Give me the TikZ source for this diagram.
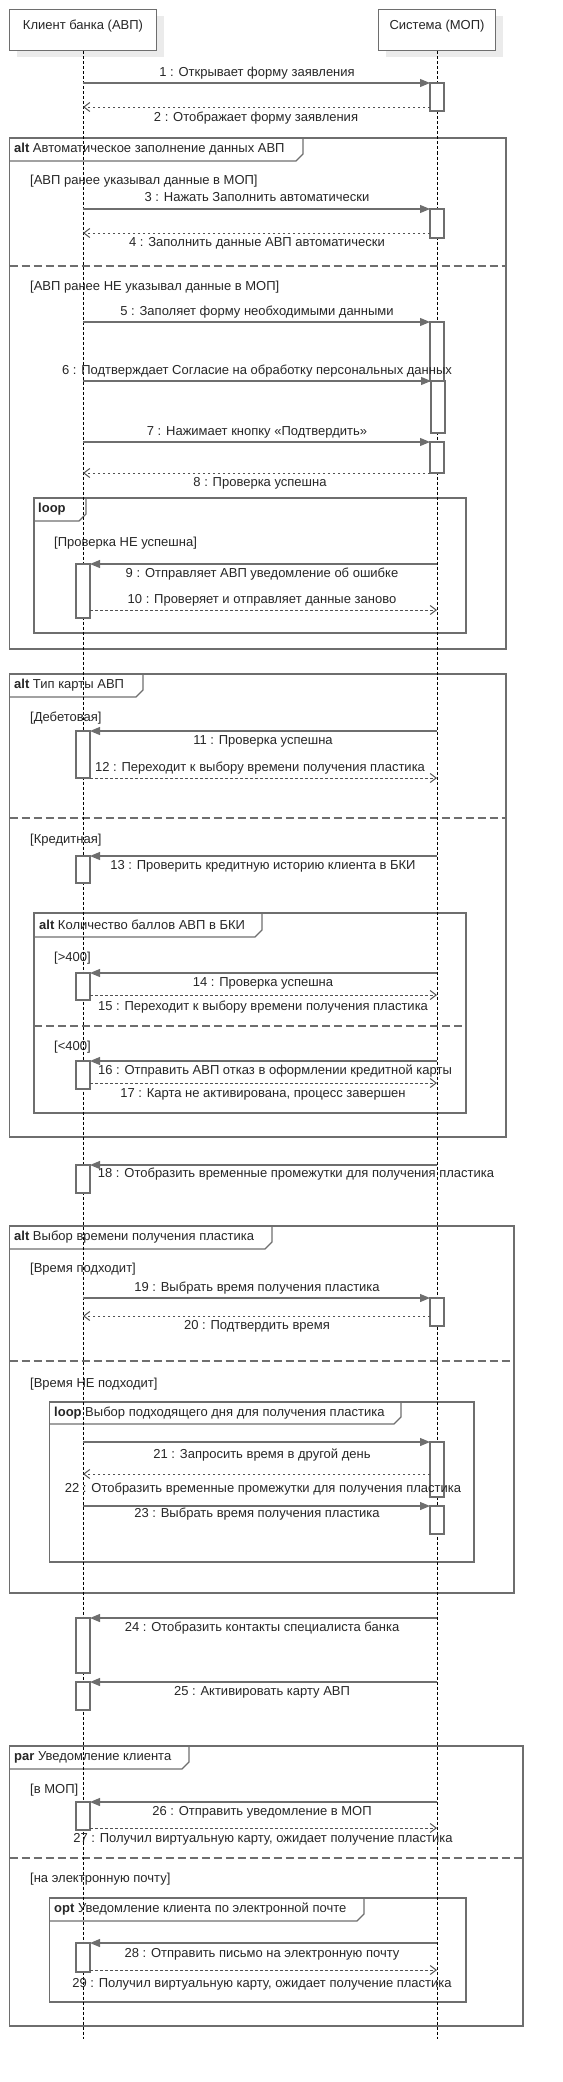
\documentclass[tikz,border=0pt]{standalone}
\usepackage{fontspec}
\setmainfont{Liberation Sans}
\usetikzlibrary{arrows.meta,shadows}
\definecolor{lineGray}{HTML}{6E6E6E}
\definecolor{textGray}{HTML}{262626}
\tikzset{
  hdr/.style={draw=lineGray, fill=white, line width=1pt, anchor=north, inner sep=4pt,
    text height=15.5pt, text depth=17.5pt, text=textGray, font=\fontsize{13}{15}\selectfont,
    drop shadow={shadow xshift=7pt, shadow yshift=-6pt, fill=black!8, opacity=1}},
  life/.style={black, line width=0.7pt, dash pattern=on 3pt off 2pt},
  act/.style={draw=lineGray, fill=white, line width=1.2pt, anchor=north, minimum width=14pt, inner sep=0pt, outer sep=0pt},
  sync/.style={draw=lineGray, line width=1.1pt, -{Triangle[length=10pt,width=8pt]}},
  ret/.style={draw=textGray!80, line width=0.9pt, dash pattern=on 2.5pt off 2.5pt, -{Straight Barb[length=6pt,width=9pt,line width=1pt]}},
  lbl/.style={text=textGray, font=\fontsize{13}{15}\selectfont, inner sep=0pt},
  grd/.style={lbl, anchor=west},
  ttl/.style={lbl, anchor=west},
  frm/.style={draw=lineGray, line width=1.2pt},
  sep/.style={draw=lineGray, line width=1.2pt, dash pattern=on 8pt off 4pt}
}
\begin{document}
\begin{tikzpicture}[x=1pt,y=-1pt] % sequence: client and system
        \useasboundingbox (0,0) rectangle (562,2082);
        % frames
        \draw[frm] (9.7,138) rectangle (506,649);
        \draw[frm] (9.7,161)--(296,161)--(303,154)--(303,138);
        \draw[sep] (9.7,266)--(506,266);
        \draw[frm] (34,498) rectangle (466,633);
        \draw[frm] (34,521)--(79,521)--(86,514)--(86,498);
        \draw[frm] (9.7,674) rectangle (506,1137);
        \draw[frm] (9.7,697)--(136,697)--(143,690)--(143,674);
        \draw[sep] (9.7,818)--(506,818);
        \draw[frm] (34,913) rectangle (466,1113);
        \draw[frm] (34,937)--(255,937)--(262,930)--(262,913);
        \draw[sep] (34,1026)--(466,1026);
        \draw[frm] (9.7,1226) rectangle (514,1593);
        \draw[frm] (9.7,1249)--(265,1249)--(272,1242)--(272,1226);
        \draw[sep] (9.7,1361)--(514,1361);
        \draw[frm] (49.5,1402) rectangle (474,1562);
        \draw[frm] (49.5,1424)--(394,1424)--(401,1417)--(401,1402);
        \draw[frm] (9.7,1746) rectangle (523,2026);
        \draw[frm] (9.7,1769)--(182,1769)--(189,1762)--(189,1746);
        \draw[sep] (9.7,1858)--(523,1858);
        \draw[frm] (49.5,1898) rectangle (466,2002);
        \draw[frm] (49.5,1921)--(357,1921)--(364,1914)--(364,1898);
        \node[ttl] (f1) at (14,149.5) {\textbf{alt}\ Автоматическое заполнение данных АВП};
        \node[ttl] (f2) at (38,509.5) {\textbf{loop}};
        \node[ttl] (f3) at (14,685.5) {\textbf{alt}\ Тип карты АВП};
        \node[ttl] (f4) at (39,925) {\textbf{alt}\ Количество баллов АВП в БКИ};
        \node[ttl] (f5) at (14,1237.5) {\textbf{alt}\ Выбор времени получения пластика};
        \node[ttl] (f6) at (54,1413) {\textbf{loop} Выбор подходящего дня для получения пластика};
        \node[ttl] (f7) at (14,1757.5) {\textbf{par}\ Уведомление клиента};
        \node[ttl] (f8) at (54,1909.5) {\textbf{opt}\ Уведомление клиента по электронной почте};
        % guards
        \node[grd] (g1) at (30,181) {[АВП ранее указывал данные в МОП]};
        \node[grd] (g2) at (30,287) {[АВП ранее НЕ указывал данные в МОП]};
        \node[grd] (g3) at (54,543) {[Проверка НЕ успешна]};
        \node[grd] (g4) at (30,718) {[Дебетовая]};
        \node[grd] (g5) at (30,840) {[Кредитная]};
        \node[grd] (g6) at (54,958) {[>400]};
        \node[grd] (g7) at (54,1047) {[<400]};
        \node[grd] (g8) at (30,1269) {[Время подходит]};
        \node[grd] (g9) at (30,1384) {[Время НЕ подходит]};
        \node[grd] (g10) at (30,1790) {[в МОП]};
        \node[grd] (g11) at (30,1879) {[на электронную почту]};
        % lifelines
        \node[hdr, minimum width=147pt] (cl) at (83,9.5) {Клиент банка (АВП)};
        \node[hdr, minimum width=117pt] (sy) at (437,9.5) {Система (МОП)};
        \coordinate (clEnd) at (83,2039);
        \coordinate (syEnd) at (437,2039);
        \draw[life] (cl.south)--(clEnd);
        \draw[life] (sy.south)--(syEnd);
        % activations
        \node[act, minimum height=28pt] (a1) at (437,83) {};
        \node[act, minimum height=29pt] (a3) at (437,209) {};
        \node[act, minimum height=59pt] (a5) at (437,322) {};
        \node[act, minimum height=52pt] (a6) at (438,381) {};
        \node[act, minimum height=31pt] (a7) at (437,442) {};
        \node[act, minimum height=54pt] (a9) at (83,564) {};
        \node[act, minimum height=47pt] (a11) at (83,731) {};
        \node[act, minimum height=27pt] (a13) at (83,856) {};
        \node[act, minimum height=27pt] (a14) at (83,973) {};
        \node[act, minimum height=28pt] (a16) at (83,1061) {};
        \node[act, minimum height=28pt] (a18) at (83,1165) {};
        \node[act, minimum height=28pt] (a19) at (437,1298) {};
        \node[act, minimum height=55pt] (a21) at (437,1442) {};
        \node[act, minimum height=28pt] (a23) at (437,1506) {};
        \node[act, minimum height=55pt] (a24) at (83,1618) {};
        \node[act, minimum height=28pt] (a25) at (83,1682) {};
        \node[act, minimum height=28pt] (a26) at (83,1802) {};
        \node[act, minimum height=29pt] (a28) at (83,1943) {};
        % messages
        \coordinate (r2) at (430,107);
        \coordinate (r4) at (430,233);
        \coordinate (r8) at (430,473);
        \coordinate (r10) at (90,610);
        \coordinate (r12) at (90,778);
        \coordinate (r15) at (90,995);
        \coordinate (r17) at (90,1083);
        \coordinate (r20) at (430,1316);
        \coordinate (r22) at (430,1474);
        \coordinate (r27) at (90,1828);
        \coordinate (r29) at (90,1970);
        \draw[sync] (cl.south |- a1.north)--(a1.north west);
        \draw[ret] (r2)--(cl.south |- r2);
        \draw[sync] (cl.south |- a3.north)--(a3.north west);
        \draw[ret] (r4)--(cl.south |- r4);
        \draw[sync] (cl.south |- a5.north)--(a5.north west);
        \draw[sync] (cl.south |- a6.north)--(a6.north west);
        \draw[sync] (cl.south |- a7.north)--(a7.north west);
        \draw[ret] (r8)--(cl.south |- r8);
        \draw[sync] (sy.south |- a9.north)--(a9.north east);
        \draw[ret] (r10)--(sy.south |- r10);
        \draw[sync] (sy.south |- a11.north)--(a11.north east);
        \draw[ret] (r12)--(sy.south |- r12);
        \draw[sync] (sy.south |- a13.north)--(a13.north east);
        \draw[sync] (sy.south |- a14.north)--(a14.north east);
        \draw[ret] (r15)--(sy.south |- r15);
        \draw[sync] (sy.south |- a16.north)--(a16.north east);
        \draw[ret] (r17)--(sy.south |- r17);
        \draw[sync] (sy.south |- a18.north)--(a18.north east);
        \draw[sync] (cl.south |- a19.north)--(a19.north west);
        \draw[ret] (r20)--(cl.south |- r20);
        \draw[sync] (cl.south |- a21.north)--(a21.north west);
        \draw[ret] (r22)--(cl.south |- r22);
        \draw[sync] (cl.south |- a23.north)--(a23.north west);
        \draw[sync] (sy.south |- a24.north)--(a24.north east);
        \draw[sync] (sy.south |- a25.north)--(a25.north east);
        \draw[sync] (sy.south |- a26.north)--(a26.north east);
        \draw[ret] (r27)--(sy.south |- r27);
        \draw[sync] (sy.south |- a28.north)--(a28.north east);
        \draw[ret] (r29)--(sy.south |- r29);
        % message labels
        \node[lbl] (t1) at (257,73) {1 : Открывает форму заявления};
        \node[lbl] (t2) at (256,118) {2 : Отображает форму заявления};
        \node[lbl] (t3) at (257,197) {3 : Нажать Заполнить автоматически};
        \node[lbl] (t4) at (257,243) {4 : Заполнить данные АВП автоматически};
        \node[lbl] (t5) at (257,312) {5 : Заполяет форму необходимыми данными};
        \node[lbl] (t6) at (257,371) {6 : Подтверждает Согласие на обработку персональных данных};
        \node[lbl] (t7) at (257,432) {7 : Нажимает кнопку «Подтвердить»};
        \node[lbl] (t8) at (260,483) {8 : Проверка успешна};
        \node[lbl] (t9) at (262,574) {9 : Отправляет АВП уведомление об ошибке};
        \node[lbl] (t10) at (262,600) {10 : Проверяет и отправляет данные заново};
        \node[lbl] (t11) at (263,741) {11 : Проверка успешна};
        \node[lbl] (t12) at (260,768) {12 : Переходит к выбору времени получения пластика};
        \node[lbl] (t13) at (263,866) {13 : Проверить кредитную историю клиента в БКИ};
        \node[lbl] (t14) at (263,983) {14 : Проверка успешна};
        \node[lbl] (t15) at (263,1007) {15 : Переходит к выбору времени получения пластика};
        \node[lbl] (t16) at (275,1071) {16 : Отправить АВП отказ в оформлении кредитной карты};
        \node[lbl] (t17) at (263,1094) {17 : Карта не активирована, процесс завершен};
        \node[lbl] (t18) at (296,1174) {18 : Отобразить временные промежутки для получения пластика};
        \node[lbl] (t19) at (257,1288) {19 : Выбрать время получения пластика};
        \node[lbl] (t20) at (257,1326) {20 : Подтвердить время};
        \node[lbl] (t21) at (262,1455) {21 : Запросить время в другой день};
        \node[lbl] (t22) at (263,1489) {22 : Отобразить временные промежутки для получения пластика};
        \node[lbl] (t23) at (257,1514) {23 : Выбрать время получения пластика};
        \node[lbl] (t24) at (262,1628) {24 : Отобразить контакты специалиста банка};
        \node[lbl] (t25) at (262,1692) {25 : Активировать карту АВП};
        \node[lbl] (t26) at (262,1812) {26 : Отправить уведомление в МОП};
        \node[lbl] (t27) at (263,1839) {27 : Получил виртуальную карту, ожидает получение пластика};
        \node[lbl] (t28) at (262,1954) {28 : Отправить письмо на электронную почту};
        \node[lbl] (t29) at (262,1984) {29 : Получил виртуальную карту, ожидает получение пластика};
\end{tikzpicture}
\end{document}
